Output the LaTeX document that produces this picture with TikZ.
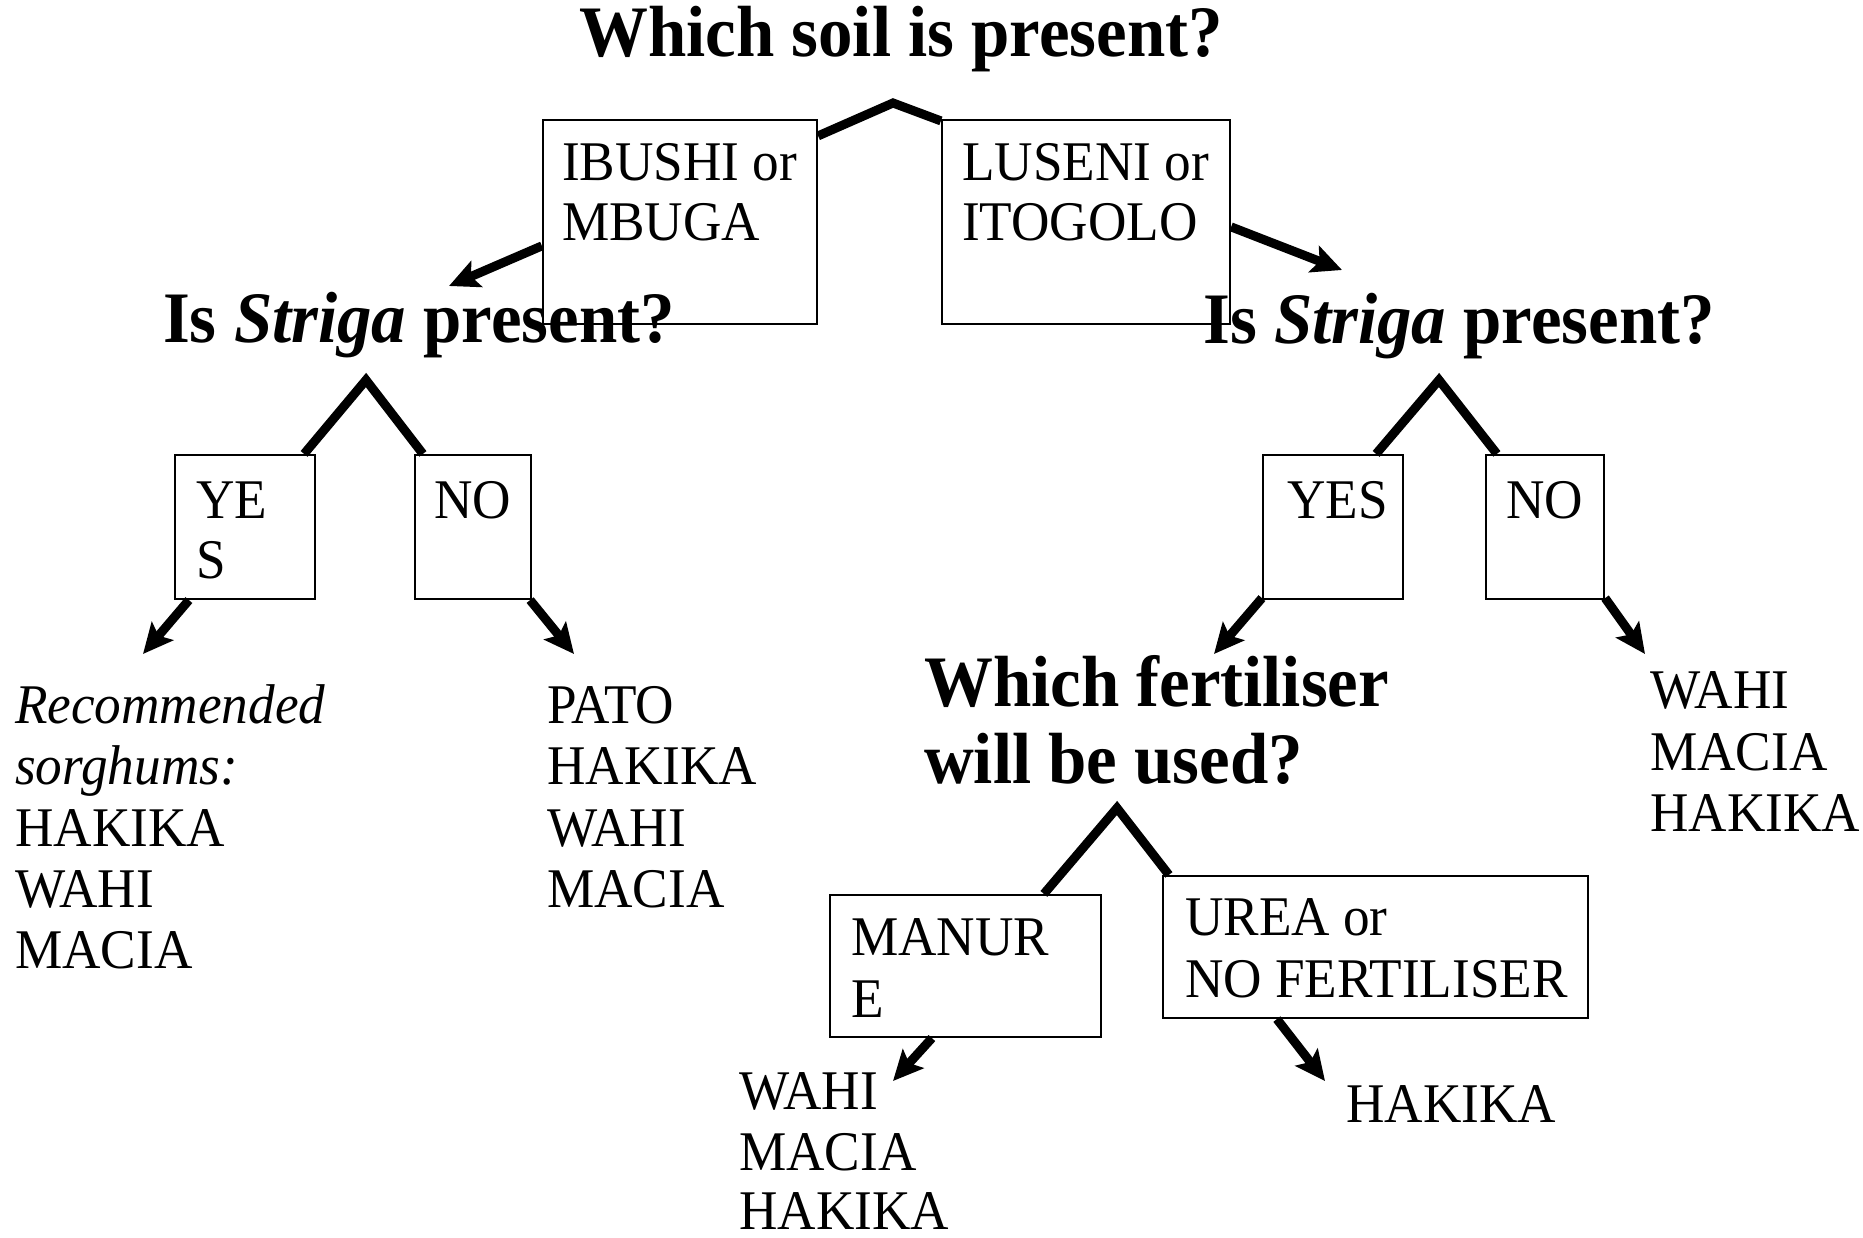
\documentclass[tikz,border=0pt]{standalone}
\usepackage{fontspec}
\setmainfont{Liberation Serif}[FakeStretch=0.95]
\usetikzlibrary{arrows.meta,calc}
\begin{document}
\begin{tikzpicture}[x=1pt,y=-1pt,
  conn/.style={line width=9pt, line cap=butt, line join=miter},
  arr/.style={conn, -{Stealth[length=30pt,width=28pt,inset=6pt]}},
  box/.style={draw, line width=2.2pt, inner sep=0pt},
  txt/.style={inner sep=0pt, anchor=base west, font=\fontsize{56}{62}\selectfont},
  head/.style={inner sep=0pt, anchor=base west, font=\fontsize{72.5}{77}\selectfont\bfseries}]
\useasboundingbox (0,0) rectangle (1863,1238);

% headings
\node[head, anchor=base] (title) at (901,57) {Which soil is present?};
\node[head] (q1) at (163,343) {Is \textit{Striga} present?};
\node[head] (q2) at (1203,344) {Is \textit{Striga} present?};
\node[head] (q3a) at (924,706) {Which fertiliser};
\node[head] (q3b) at (924,783) {will be used?};

% boxes
\node[box, minimum width=274pt, minimum height=204pt] (b1) at (680,222) {};
\node[box, minimum width=288pt, minimum height=204pt] (b2) at (1086,222) {};
\node[box, minimum width=140pt, minimum height=144pt] (b3) at (245,527) {};
\node[box, minimum width=116pt, minimum height=144pt] (b4) at (473,527) {};
\node[box, minimum width=140pt, minimum height=144pt] (b5) at (1333,527) {};
\node[box, minimum width=118pt, minimum height=144pt] (b6) at (1545,527) {};
\node[box, minimum width=271pt, minimum height=142pt] (b7) at (965.5,966) {};
\node[box, minimum width=425pt, minimum height=142pt] (b8) at (1375.5,947) {};

% box texts
\node[txt] (b1a) at (562,181) {IBUSHI or};
\node[txt] (b1b) at (562,241) {MBUGA};
\node[txt] (b2a) at (962,181) {LUSENI or};
\node[txt] (b2b) at (962,241) {ITOGOLO};
\node[txt] (b3a) at (196,518) {YE};
\node[txt] (b3b) at (196,578) {S};
\node[txt] (b4a) at (434,518) {NO};
\node[txt] (b5a) at (1287,518) {YES};
\node[txt] (b6a) at (1506,518) {NO};
\node[txt] (b7a) at (851,955) {MANUR};
\node[txt] (b7b) at (851,1017) {E};
\node[txt] (b8a) at (1185,935) {UREA or};
\node[txt] (b8b) at (1185,997) {NO FERTILISER};

% outcomes
\node[txt] (r1a) at (15,723) {\itshape Recommended};
\node[txt] (r1b) at (15,784) {\itshape sorghums:};
\node[txt] (r1c) at (15,846) {HAKIKA};
\node[txt] (r1d) at (15,907) {WAHI};
\node[txt] (r1e) at (15,968) {MACIA};
\node[txt] (r2a) at (547,723) {PATO};
\node[txt] (r2b) at (547,784) {HAKIKA};
\node[txt] (r2c) at (547,846) {WAHI};
\node[txt] (r2d) at (547,907) {MACIA};
\node[txt] (r3a) at (1650,708) {WAHI};
\node[txt] (r3b) at (1650,770) {MACIA};
\node[txt] (r3c) at (1650,831) {HAKIKA};
\node[txt] (r4a) at (739,1109) {WAHI};
\node[txt] (r4b) at (739,1170) {MACIA};
\node[txt] (r4c) at (739,1229) {HAKIKA};
\node[txt] (r5a) at (1346,1122) {HAKIKA};

% connector points
\coordinate (pk1) at (893,103);
\coordinate (pk2) at (366,380);
\coordinate (pk3) at (1439,380);
\coordinate (pk4) at (1117,808);
\coordinate (tp1) at (449,286);
\coordinate (tp2) at (1342,270);
\coordinate (tp3) at (143,654);
\coordinate (tp4) at (574,654);
\coordinate (tp5) at (1214,654);
\coordinate (tp6) at (1645,654);
\coordinate (tp7) at (893,1081);
\coordinate (tp8) at (1325,1081);

% connectors
\draw[conn] ($(b1.north east)+(0,17)$) -- (pk1) -- ($(b2.north west)+(0,2)$);
\draw[arr] ($(b1.north west)+(0,127)$) -- (tp1);
\draw[arr] ($(b2.north east)+(0,108)$) -- (tp2);

\draw[conn] ($(b3.north east)+(-12,0)$) -- (pk2) -- ($(b4.north west)+(9,0)$);
\draw[arr] ($(b3.south west)+(15,0)$) -- (tp3);
\draw[arr] ($(b4.south east)+(-2,0)$) -- (tp4);

\draw[conn] ($(b5.north east)+(-28,0)$) -- (pk3) -- ($(b6.north west)+(12,0)$);
\draw[arr] ($(b5.south west)+(0,-2)$) -- (tp5);
\draw[arr] ($(b6.south east)+(0,-2)$) -- (tp6);

\draw[conn] ($(b7.north west)+(215,0)$) -- (pk4) -- ($(b8.north west)+(7,0)$);
\draw[arr] ($(b7.south west)+(103,0)$) -- (tp7);
\draw[arr] ($(b8.south west)+(115,0)$) -- (tp8);
\end{tikzpicture}
\end{document}
